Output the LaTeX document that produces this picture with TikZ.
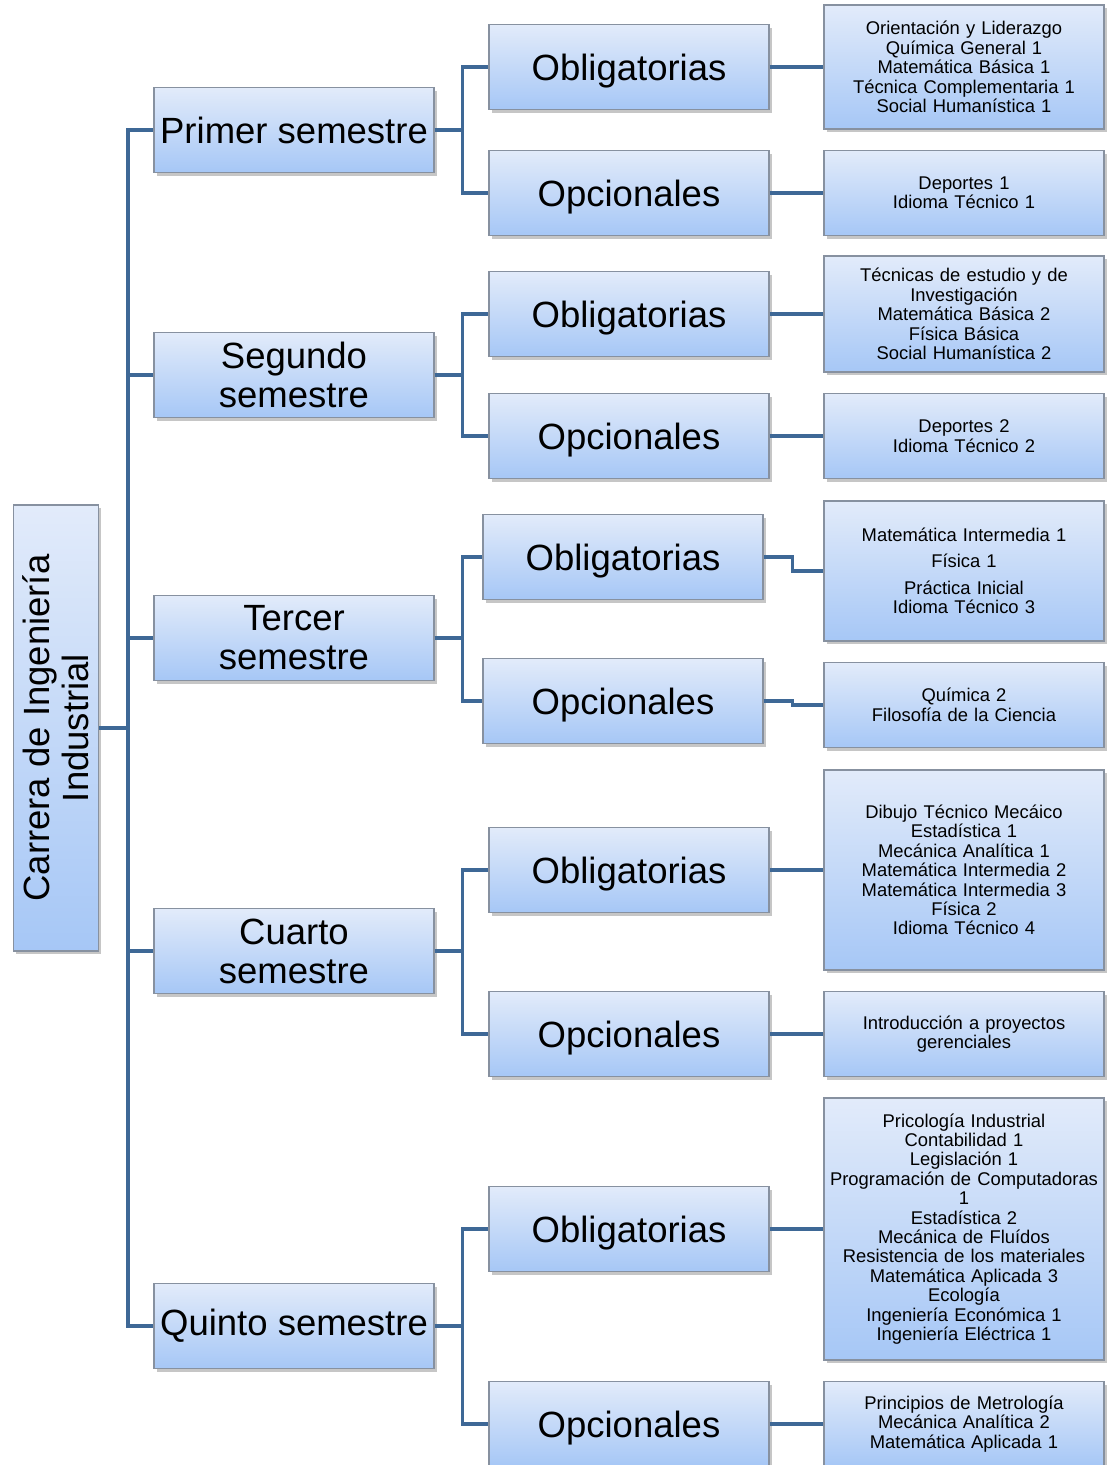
\documentclass[tikz,border=0pt]{standalone}
\usepackage{fontspec}
\setmainfont{Liberation Sans}
\usetikzlibrary{shadows}
\definecolor{boxtop}{RGB}{226,235,250}
\definecolor{boxbot}{RGB}{166,199,246}
\definecolor{boxline}{RGB}{135,145,160}
\definecolor{linkblue}{RGB}{62,104,150}
\begin{document}
\begin{tikzpicture}[x=1pt, y=-1pt,
    box/.style={draw=boxline, line width=1.2pt, top color=boxtop, bottom color=boxbot,
        drop shadow={shadow xshift=2.5pt, shadow yshift=-3pt, opacity=.45}, inner sep=2pt, align=center},
    bigtxt/.style={font=\fontsize{36.5}{39}\selectfont},
    smalltxt/.style={font=\fontsize{18.4}{19.4}\selectfont},
    sembox/.style={box, bigtxt, minimum width=280pt, minimum height=85pt},
    midbox/.style={box, bigtxt, minimum width=280pt, minimum height=85pt, text height=26pt, text depth=0pt},
    listbox/.style={box, smalltxt, minimum width=280pt, text width=274pt},
    link/.style={draw=linkblue, line width=3.6pt}]
    \useasboundingbox (0,0) rectangle (1112,1465);

    % root
    \node[box, minimum width=85pt, minimum height=446pt] (root) at (56,728) {};
    \node[bigtxt, rotate=90, align=center] (rootlbl) at (root.center) {Carrera de Ingeniería\\Industrial};

    % semesters
    \node[sembox] (prim) at (294,130) {Primer semestre};
    \node[sembox] (segu) at (294,375) {Segundo\\semestre};
    \node[sembox] (terc) at (294,638) {Tercer\\semestre};
    \node[sembox] (cuar) at (294,951) {Cuarto\\semestre};
    \node[sembox] (quin) at (294,1326) {Quinto semestre};

    % obligatorias / opcionales
    \node[midbox] (obl1) at (629,67) {Obligatorias};
    \node[midbox] (opc1) at (629,193) {Opcionales};
    \node[midbox] (obl2) at (629,314) {Obligatorias};
    \node[midbox] (opc2) at (629,436) {Opcionales};
    \node[midbox] (obl3) at (623,557) {Obligatorias};
    \node[midbox] (opc3) at (623,701) {Opcionales};
    \node[midbox] (obl4) at (629,870) {Obligatorias};
    \node[midbox] (opc4) at (629,1034) {Opcionales};
    \node[midbox] (obl5) at (629,1229) {Obligatorias};
    \node[midbox] (opc5) at (629,1424) {Opcionales};

    % courses
    \node[listbox, minimum height=124pt] (cur1) at (964,67) {Orientación y Liderazgo\\Química General 1\\Matemática Básica 1\\Técnica Complementaria 1\\Social Humanística 1};
    \node[listbox, minimum height=85pt] (cur2) at (964,193) {Deportes 1\\Idioma Técnico 1};
    \node[listbox, minimum height=116pt] (cur3) at (964,314) {Técnicas de estudio y de\\Investigación\\Matemática Básica 2\\Física Básica\\Social Humanística 2};
    \node[listbox, minimum height=85pt] (cur4) at (964,436) {Deportes 2\\Idioma Técnico 2};
    \node[listbox, minimum height=140pt] (cur5) at (964,571) {Matemática Intermedia 1\\[7pt]Física 1\\[7pt]Práctica Inicial\\Idioma Técnico 3};
    \node[listbox, minimum height=85pt] (cur6) at (964,705) {Química 2\\Filosofía de la Ciencia};
    \node[listbox, minimum height=200pt] (cur7) at (964,870) {Dibujo Técnico Mecáico\\Estadística 1\\Mecánica Analítica 1\\Matemática Intermedia 2\\Matemática Intermedia 3\\Física 2\\Idioma Técnico 4};
    \node[listbox, minimum height=85pt] (cur8) at (964,1034) {Introducción a proyectos\\gerenciales};
    \node[listbox, minimum height=262pt] (cur9) at (964,1229) {Pricología Industrial\\Contabilidad 1\\Legislación 1\\Programación de Computadoras\\1\\Estadística 2\\Mecánica de Fluídos\\Resistencia de los materiales\\Matemática Aplicada 3\\Ecología\\Ingeniería Económica 1\\Ingeniería Eléctrica 1};
    \node[listbox, minimum height=85pt] (cur10) at (964,1424) {Principios de Metrología\\Mecánica Analítica 2\\Matemática Aplicada 1};

    % connectors
    \coordinate (spine) at (128,728);
    \draw[link] (root.east) -- (spine);
    \foreach \s in {prim,segu,terc,cuar,quin}
        \draw[link] (spine) |- (\s.west);

    \foreach \s/\o/\p in {prim/obl1/opc1, segu/obl2/opc2, terc/obl3/opc3, cuar/obl4/opc4, quin/obl5/opc5} {
        \draw[link] (\s.east) -- ++(28,0) |- (\o.west);
        \draw[link] (\s.east) -- ++(28,0) |- (\p.west);
    }

    \foreach \o/\c in {obl1/cur1, opc1/cur2, obl2/cur3, opc2/cur4, obl3/cur5, opc3/cur6, obl4/cur7, opc4/cur8, obl5/cur9, opc5/cur10}
        \draw[link] (\o.east) -- ++(29,0) |- (\c.west);
\end{tikzpicture}
\end{document}
